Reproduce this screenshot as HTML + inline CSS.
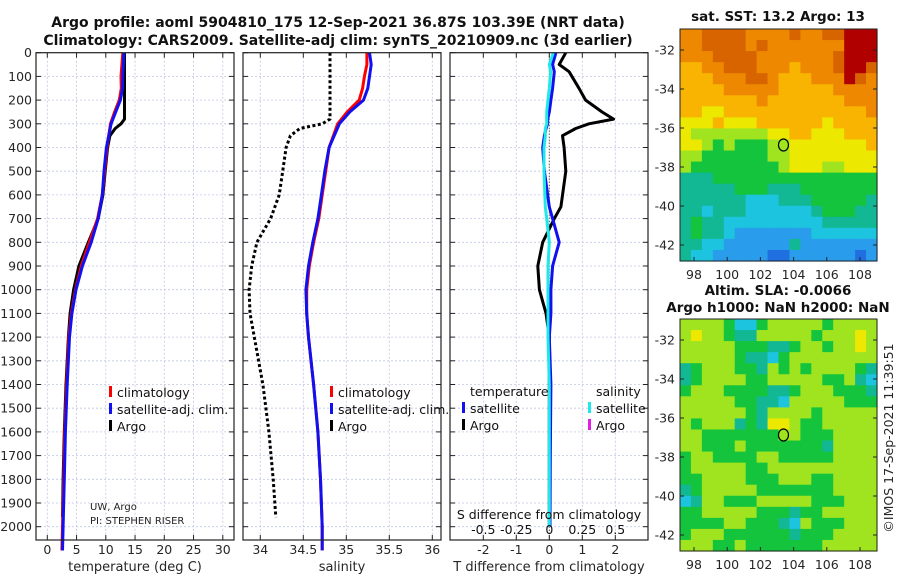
<!DOCTYPE html>
<html><head><meta charset="utf-8">
<style>
html,body{margin:0;padding:0;background:#fff;}
svg{display:block;font-family:"DejaVu Sans","Liberation Sans",sans-serif;}
</style></head>
<body>
<svg id="fig" width="900" height="580" viewBox="0 0 900 580" xmlns="http://www.w3.org/2000/svg"></svg>
<script>
// ---------- DATA ----------
const depthTicks=[0,100,200,300,400,500,600,700,800,900,1000,1100,1200,1300,1400,1500,1600,1700,1800,1900,2000];
const tTicks=[0,5,10,15,20,25,30];
const sTicks=[34,34.5,35,35.5,36];
const dTTicks=[-2,-1,0,1,2];
const dSTicks=[-0.5,-0.25,0,0.25,0.5];
const dSTickLabels=["-0.5","-0.25","0","0.25","0.5"];
const climDepth=[0,50,100,150,200,250,300,400,500,600,700,800,900,1000,1100,1200,1400,1600,1800,2000,2100];
const climT=[12.9,12.75,12.6,12.65,12.3,11.5,10.8,10.2,9.8,9.4,8.6,7.2,5.8,4.8,4.1,3.7,3.3,3.0,2.8,2.6,2.5];
const satT=[13.1,13.0,12.9,12.85,12.5,11.7,10.9,10.1,9.7,9.4,8.7,7.5,6.0,4.9,4.2,3.8,3.4,3.1,2.9,2.7,2.6];
const climS=[35.24,35.24,35.21,35.19,35.15,35.01,34.9,34.8,34.76,34.72,34.68,34.62,34.57,34.54,34.54,34.56,34.62,34.67,34.7,34.72,34.72];
const satS=[35.27,35.29,35.27,35.25,35.2,35.04,34.92,34.8,34.75,34.71,34.67,34.61,34.56,34.53,34.54,34.56,34.62,34.67,34.7,34.72,34.72];
const argoDepth=[0,150,280,300,320,350,400,500,600,700,800,900,1000,1100,1200,1400,1600,1800,1960];
const argoT=[13.2,13.2,13.2,12.6,11.6,10.7,10.3,9.9,9.5,8.7,7.0,5.4,4.5,3.9,3.6,3.2,2.9,2.7,2.6];
const argoS=[34.81,34.81,34.81,34.72,34.46,34.35,34.3,34.26,34.22,34.12,33.96,33.9,33.87,33.88,33.93,34.03,34.1,34.15,34.18];
const dDepth=[0,50,80,150,200,250,280,300,320,350,400,500,650,700,800,900,1000,1100,1200,1400,1700,2000];
const dTsat=[0.2,0.1,0.15,0.1,0.05,0.0,-0.05,-0.05,-0.1,-0.15,-0.2,-0.15,0.0,0.1,0.3,0.1,0.05,0.05,0.0,0.05,0.03,0.02];
const dSsat=[0.03,0.0,0.01,0.0,-0.01,-0.02,-0.02,-0.02,-0.03,-0.03,-0.04,-0.04,-0.03,-0.02,0.0,-0.01,-0.01,-0.01,-0.01,0.0,0.0,0.0];
const dTargo=[0.5,0.3,0.6,0.9,1.1,1.6,1.95,1.2,0.8,0.4,0.45,0.5,0.35,0.15,-0.2,-0.35,-0.3,-0.1,0.0,0.0,0.0,0.0];
const lonTicks=[98,100,102,104,106,108];
const latTicks=[-32,-34,-36,-38,-40,-42];
const argoLon=103.39, argoLat=-36.87;
const sstGrid=[
"889999888898899AAA","889999898888888AAA","888999988888889AAA","778899988878889AA9",
"777888998777888A98","777788888777778888","777777787777777888","776677777777777778",
"666766677777767777","655555556677666777","665454445566666667","554444445566666666",
"544444444566655666","333444444444444444","333334443334444444","333333222333444443",
"332333222222344433","343322222222233333","343321111111222222","332211111131111111",
"322111110011111101"];
const slaGrid=[
"555542245555545555","565543355555455565","555554443345545565","555554332455555555",
"345554435454555543","345555445555544532","455544443345554443","555554433255555444",
"555555435555455555","545553436654455555","554444444554445555","554445444444435555",
"455444455444445555","455555445555555555","445555444555445555","345555544444445555",
"235544455555444555","445555544434455555","444455444325444555","455544444434445555",
"555445444444455555"];
const cmap={"0":"#1f6fe0","1":"#2a9cec","2":"#1cc4e0","3":"#12b894","4":"#14c43c","5":"#a0e420","6":"#ece800","7":"#f8b400","8":"#ee8800","9":"#d86400","A":"#b00000"};

// ---------- HELPERS ----------
const NS="http://www.w3.org/2000/svg";
const svg=document.getElementById('fig');
function el(tag,attrs,parent,text){const e=document.createElementNS(NS,tag);for(const k in attrs)e.setAttribute(k,attrs[k]);if(text!==undefined)e.textContent=text;(parent||svg).appendChild(e);return e;}
const TOP=52.7, DSCALE=0.237, BOT=540;
const yD=d=>TOP+d*DSCALE;
function lin(d0,d1,p0,p1){return v=>p0+(v-d0)*(p1-p0)/(d1-d0);}

function panel(name,x0,x1,xs,ticks,labels,xlabel,showY){
  const g=el('g',{},svg);
  
  
  ticks.forEach(t=>{const gl=el('line',{x1:xs(t),x2:xs(t),y1:TOP,y2:BOT,stroke:'#c8c0e0','stroke-width':0.8,'stroke-dasharray':'2,2'},g);
    });
  depthTicks.forEach(d=>{const gl=el('line',{x1:x0,x2:x1,y1:yD(d),y2:yD(d),stroke:'#c0c8e8','stroke-width':0.8,'stroke-dasharray':'2,2'},g);
    
    el('line',{x1:x0,x2:x0+5,y1:yD(d),y2:yD(d),stroke:'#222','stroke-width':1},g);
    el('line',{x1:x1-5,x2:x1,y1:yD(d),y2:yD(d),stroke:'#222','stroke-width':1},g);
    if(showY){const t=el('text',{x:x0-4,y:yD(d)+4.5,'text-anchor':'end','font-size':12.5,fill:'#262626'},g,String(d));
      }
  });
  ticks.forEach((t,i)=>{el('line',{x1:xs(t),x2:xs(t),y1:BOT-5,y2:BOT,stroke:'#222'},g);el('line',{x1:xs(t),x2:xs(t),y1:TOP,y2:TOP+5,stroke:'#222'},g);
    const tl=el('text',{x:xs(t),y:BOT+14,'text-anchor':'middle','font-size':12.5,fill:'#262626'},g,labels[i]);
    });
  const xl=el('text',{x:(x0+x1)/2,y:BOT+31,'text-anchor':'middle','font-size':13,fill:'#262626'},g,xlabel);
  
  return g;
}
function line(g,xs,vals,depths,color,name,w,dash){
  const pts=vals.map((v,i)=>xs(v).toFixed(1)+','+yD(depths[i]).toFixed(1)).join(' ');
  const p=el('polyline',{points:pts,fill:'none',stroke:color,'stroke-width':w||3,'stroke-linejoin':'round','stroke-dasharray':dash||'none'},g);
  
  return p;
}
function frame(g,x0,x1){const r=el('rect',{x:x0,y:TOP,width:x1-x0,height:BOT-TOP,fill:'none',stroke:'#222','stroke-width':1.2},g);
  }
function legend(g,x,y,items,header){
  if(header){const h=el('text',{x:x+8,y:y,'font-size':12.5,fill:'#111'},g,header);y+=17;}
  items.forEach(([c,t])=>{
    const r=el('rect',{x:x,y:y-11,width:3,height:11,fill:c},g);
    
    const tx=el('text',{x:x+8,y:y,'font-size':12.5,fill:'#111'},g,t);
    
    y+=17;});
}

let t1=el('text',{x:338,y:27,'text-anchor':'middle','font-size':14,'font-weight':'bold',fill:'#111'},svg,'Argo profile: aoml 5904810_175 12-Sep-2021 36.87S 103.39E (NRT data)');

let t2=el('text',{x:338,y:45,'text-anchor':'middle','font-size':14,'font-weight':'bold',fill:'#111'},svg,'Climatology: CARS2009. Satellite-adj clim: synTS_20210909.nc (3d earlier)');


const xT=lin(0,30,47.3,222.8);
const g1=panel('temperature-panel',36,234,xT,tTicks,tTicks.map(String),'temperature (deg C)',true);
line(g1,xT,argoT,argoDepth,'#000','argo-temperature-line');
line(g1,xT,climT,climDepth,'#f00','climatology-temperature-line');
line(g1,xT,satT,climDepth,'#1010f0','satellite-temperature-line');
frame(g1,36,234);
legend(g1,109,397,[['#f00','climatology'],['#1010f0','satellite-adj. clim.'],['#000','Argo']]);
let c1=el('text',{x:90,y:510,'font-size':10,fill:'#222'},g1,'UW, Argo');
let c2=el('text',{x:90,y:524,'font-size':10,fill:'#222'},g1,'PI: STEPHEN RISER');

const xS=lin(34,36,260.3,432.3);
const g2=panel('salinity-panel',243,441,xS,sTicks,sTicks.map(String),'salinity',false);
line(g2,xS,argoS,argoDepth,'#000','argo-salinity-line',3,'3,2.5');
line(g2,xS,climS,climDepth,'#f00','climatology-salinity-line');
line(g2,xS,satS,climDepth,'#1010f0','satellite-salinity-line');
frame(g2,243,441);
legend(g2,330,397,[['#f00','climatology'],['#1010f0','satellite-adj. clim.'],['#000','Argo']]);

const xDT=lin(-2,2,483.3,615.3);
const xDS=lin(-0.5,0.5,483.3,615.3);
const g3=panel('difference-panel',450,648,xDT,dTTicks,dTTicks.map(String),'T difference from climatology',false);
let z=el('line',{x1:xDT(0),x2:xDT(0),y1:TOP,y2:BOT,stroke:'#333','stroke-width':1,'stroke-dasharray':'1,2'},g3);

line(g3,xDT,dTargo,dDepth,'#000','argo-temperature-difference-line');
line(g3,xDT,dTsat,dDepth,'#1010f0','satellite-temperature-difference-line');
line(g3,xDS,dSsat,dDepth,'#20e8e8','satellite-salinity-difference-line');
frame(g3,450,648);
legend(g3,462,396,[['#1010f0','satellite'],['#000','Argo']],'temperature');
legend(g3,588,396,[['#20e8e8','satellite'],['#e020e0','Argo']],'salinity');
let sl=el('text',{x:549,y:519,'text-anchor':'middle','font-size':12.5,fill:'#111'},g3,'S difference from climatology');

dSTicks.forEach((t,i)=>{const tl=el('text',{x:xDS(t),y:534,'text-anchor':'middle','font-size':12.5,fill:'#111'},g3,dSTickLabels[i]);
  });

function map(name,grid,y0,title1,title2){
  const x0=680,x1=877,y1=y0+232;
  const g=el('g',{},svg);
  
  const lonS=lin(98,108,694,860), latS=lin(-32,-42,y0+21,y0+216);
  const rows=grid.length, cols=grid[0].length, cw=(x1-x0)/cols, ch=(y1-y0)/rows;
  grid.forEach((row,r)=>{for(let c=0;c<cols;c++){
    const cell=el('rect',{x:(x0+c*cw).toFixed(2),y:(y0+r*ch).toFixed(2),width:(cw+0.6).toFixed(2),height:(ch+0.6).toFixed(2),fill:cmap[row[c]]},g);
    }});
  const fr=el('rect',{x:x0,y:y0,width:x1-x0,height:y1-y0,fill:'none',stroke:'#222','stroke-width':1},g);
  
  lonTicks.forEach(t=>{el('line',{x1:lonS(t),x2:lonS(t),y1:y1,y2:y1-4,stroke:'#222'},g);
    const tl=el('text',{x:lonS(t),y:y1+18,'text-anchor':'middle','font-size':12.5,fill:'#262626'},g,String(t));
    });
  latTicks.forEach(t=>{el('line',{x1:x0,x2:x0+4,y1:latS(t),y2:latS(t),stroke:'#222'},g);el('line',{x1:x1,x2:x1-4,y1:latS(t),y2:latS(t),stroke:'#222'},g);
    const tl=el('text',{x:x0-5,y:latS(t)+4.5,'text-anchor':'end','font-size':12.5,fill:'#262626'},g,String(t));
    });
  const mk=el('ellipse',{cx:lonS(argoLon),cy:latS(argoLat),rx:5,ry:6,fill:'none',stroke:'#000','stroke-width':1.2},g);
  
  const a=el('text',{x:778,y:title2?y0-24:y0-8,'text-anchor':'middle','font-size':13.5,'font-weight':'bold',fill:'#111'},g,title1);
  
  if(title2){const b=el('text',{x:778,y:y0-7,'text-anchor':'middle','font-size':13.5,'font-weight':'bold',fill:'#111'},g,title2);
    }
}
map('sst-map',sstGrid,29,'sat. SST: 13.2 Argo: 13');
map('sla-map',slaGrid,319,'Altim. SLA: -0.0066','Argo h1000: NaN h2000: NaN');
let cp=el('text',{x:0,y:0,'text-anchor':'middle','font-size':12.5,fill:'#262626',transform:'translate(893,438) rotate(-90)'},svg,'©IMOS 17-Sep-2021 11:39:51');

</script>
</body></html>
